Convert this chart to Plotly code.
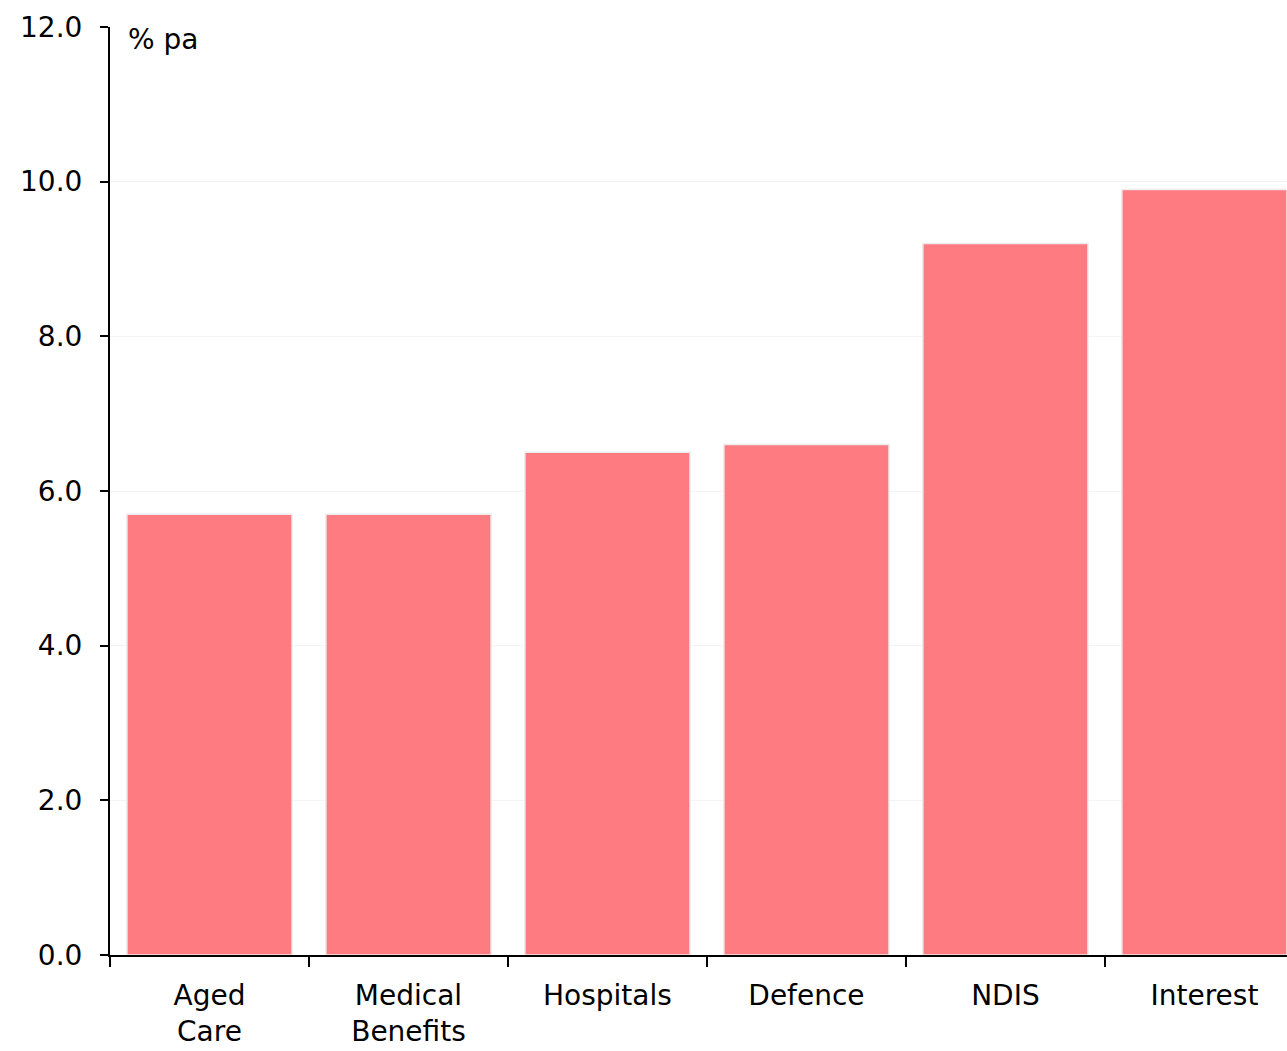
import plotly.graph_objects as go

categories = ["Aged<br>Care", "Medical<br>Benefits", "Hospitals", "Defence", "NDIS", "Interest"]
growth = [5.7, 5.7, 6.5, 6.6, 9.2, 9.9]
y_ticks = [0, 2, 4, 6, 8, 10, 12]

FONT = "Century Gothic, DejaVu Sans, sans-serif"

fig = go.Figure()
fig.add_trace(go.Bar(
    x=categories, y=growth,
    marker=dict(color='#ff7b82', line=dict(color='#ececec', width=1.5)),
    showlegend=False
))

# unit label in the top-left corner of the plot
fig.add_annotation(
    text="% pa", xref="paper", yref="paper", x=0.014, y=1.0, yshift=6,
    xanchor="left", yanchor="top", showarrow=False,
    font=dict(size=28, color='black', family=FONT)
)

fig.update_xaxes(
    range=[-0.5, 5.415],
    showline=True, linecolor='black', linewidth=2,
    ticks='outside', tickson='boundaries', ticklen=10, tickwidth=2, tickcolor='black',
    ticklabelstandoff=14, automargin=False,
    showgrid=False, tickfont=dict(size=28, color='black', family=FONT)
)
fig.update_yaxes(
    range=[0, 12], tickvals=y_ticks, ticktext=[f"{v:.1f}" for v in y_ticks],
    showline=True, linecolor='black', linewidth=2,
    ticks='outside', ticklen=8, tickwidth=2, tickcolor='black',
    ticklabelstandoff=12, automargin=False,
    showgrid=True, gridcolor='#f4f4f4', gridwidth=1, zeroline=False,
    tickfont=dict(size=28, color='black', family=FONT)
)
fig.update_layout(
    width=1287, height=1051,
    margin=dict(l=110, r=0, t=27, b=96),
    plot_bgcolor='white', paper_bgcolor='white',
    bargap=0.17
)
# drop the default page margin so the figure sits at the window's corner
fig.write_html(
    "out.html",
    config={'displayModeBar': False},
    post_script="document.body.style.margin='0';document.body.style.overflow='hidden';"
)
